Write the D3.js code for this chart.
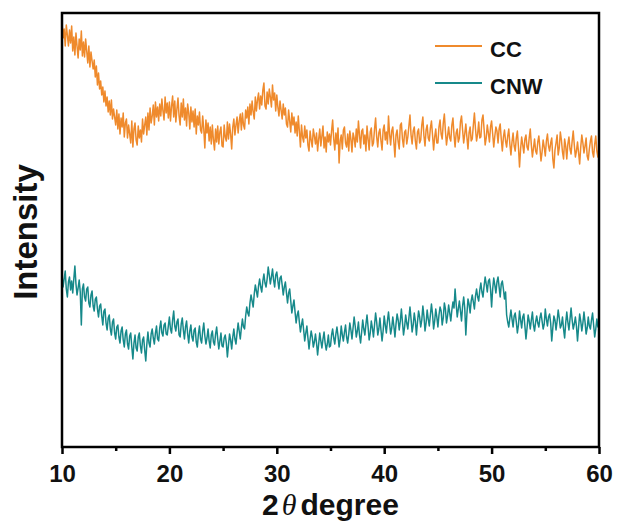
<!DOCTYPE html>
<meta charset="utf-8">
<style>
    body {
        margin: 0;
        background: #fff;
        font-family: "Liberation Sans", Arial, Helvetica, sans-serif;
    }

    svg {
        display: block;
    }

    .frame {
        fill: none;
        stroke: #000;
        stroke-width: 2.5px;
    }

    .trace {
        fill: none;
        stroke-width: 1.5px;
        stroke-linejoin: round;
    }

    .axis path {
        display: none;
    }

    .axis line {
        stroke: #000;
        stroke-width: 2.5px;
    }

    .axis text {
        font-family: "Liberation Sans", Arial, sans-serif;
        font-size: 24px;
        font-weight: bold;
        fill: #111;
    }

    .label {
        font-weight: bold;
        fill: #111;
    }
</style>

<body>
    <script src="https://cdn.jsdelivr.net/npm/d3@7"></script>
    <script>

        var seriesNames = ["CC", "CNW"];
        var seriesColors = ["#EF8A2C", "#16898A"];

        // intensity (a.u.), sampled every 0.1 degree from 10 to 60, one row per degree
        var ccIntensity = [
            425, 409, 418, 401, 422, 412, 401, 417, 404, 421,
            396, 410, 392, 414, 401, 389, 408, 397, 416, 391,
            405, 390, 408, 396, 384, 401, 380, 395, 386, 378,
            387, 370, 381, 362, 374, 358, 366, 352, 360, 345,
            356, 341, 350, 335, 346, 332, 347, 328, 338, 330,
            322, 337, 318, 333, 313, 329, 320, 334, 310, 324,
            328, 309, 322, 313, 304, 326, 300, 318, 324, 307,
            302, 321, 309, 317, 305, 328, 313, 322, 330, 312,
            334, 317, 339, 324, 331, 342, 322, 345, 330, 340,
            326, 343, 331, 348, 336, 327, 350, 334, 344, 329,
            345, 326, 341, 351, 330, 346, 325, 338, 349, 331,
            322, 344, 330, 348, 327, 339, 321, 343, 334, 318,
            340, 325, 336, 320, 338, 313, 331, 322, 335, 317,
            314, 331, 318, 299, 327, 314, 324, 306, 320, 303,
            322, 307, 297, 318, 305, 321, 303, 315, 320, 301,
            300, 322, 310, 306, 325, 308, 323, 313, 298, 320,
            328, 312, 322, 330, 314, 326, 333, 317, 334, 322,
            318, 337, 329, 340, 323, 343, 332, 346, 335, 328,
            350, 336, 347, 354, 338, 351, 342, 357, 364, 341,
            338, 355, 343, 358, 350, 340, 362, 347, 354, 336,
            352, 340, 331, 346, 337, 328, 343, 332, 339, 323,
            320, 337, 326, 315, 334, 322, 330, 314, 325, 311,
            331, 316, 300, 322, 310, 305, 321, 309, 317, 302,
            296, 316, 307, 300, 318, 311, 303, 314, 296, 308,
            318, 301, 311, 321, 299, 310, 295, 315, 305, 313,
            302, 316, 327, 308, 297, 314, 303, 319, 284, 306,
            312, 298, 317, 320, 304, 300, 313, 296, 316, 308,
            295, 314, 309, 300, 318, 305, 326, 312, 299, 316,
            318, 303, 312, 296, 321, 308, 297, 315, 319, 301,
            304, 318, 329, 310, 300, 314, 318, 306, 297, 317,
            322, 307, 315, 303, 331, 313, 302, 316, 320, 305,
            290, 312, 317, 305, 298, 322, 324, 308, 300, 315,
            317, 303, 310, 321, 332, 312, 303, 316, 320, 306,
            298, 315, 318, 304, 307, 322, 330, 311, 301, 317,
            322, 309, 306, 319, 326, 312, 297, 310, 318, 304,
            304, 320, 327, 313, 308, 324, 333, 316, 302, 311,
            320, 309, 306, 322, 329, 312, 300, 314, 318, 305,
            309, 325, 331, 317, 304, 313, 323, 310, 298, 314,
            320, 306, 308, 322, 334, 318, 306, 313, 325, 309,
            310, 327, 332, 318, 302, 309, 322, 314, 305, 320,
            326, 313, 300, 311, 320, 316, 304, 318, 323, 308,
            296, 310, 317, 306, 300, 311, 318, 303, 292, 305,
            314, 301, 296, 309, 316, 300, 280, 298, 310, 302,
            294, 308, 312, 300, 297, 309, 318, 302, 290, 299,
            308, 296, 293, 305, 311, 299, 286, 295, 307, 300,
            291, 306, 313, 301, 296, 304, 309, 288, 279, 297,
            304, 312, 292, 299, 315, 307, 295, 288, 308, 301,
            288, 303, 310, 298, 293, 306, 316, 302, 290, 296,
            305, 294, 283, 300, 312, 304, 294, 301, 309, 291,
            287, 298, 306, 311, 295, 290, 303, 311, 296, 290,
            300
        ];

        var cnwIntensity = [
            172, 160, 168, 176, 158, 150, 165, 170, 157, 166,
            154, 168, 181, 163, 152, 159, 167, 155, 122, 158,
            163, 150, 146, 158, 160, 144, 140, 152, 156, 141,
            136, 148, 150, 138, 130, 141, 143, 131, 122, 136,
            138, 124, 117, 129, 132, 118, 112, 125, 128, 114,
            108, 120, 122, 110, 104, 116, 120, 107, 100, 113,
            117, 103, 98, 111, 114, 100, 88, 104, 112, 99,
            96, 110, 114, 101, 94, 107, 110, 97, 86, 103,
            115, 104, 100, 113, 118, 109, 103, 114, 121, 108,
            106, 119, 126, 114, 111, 122, 124, 113, 112, 121,
            130, 118, 114, 127, 136, 121, 116, 125, 128, 112,
            110, 123, 129, 117, 108, 120, 126, 113, 104, 116,
            122, 110, 106, 117, 119, 105, 100, 113, 121, 108,
            104, 116, 124, 111, 103, 109, 118, 106, 99, 112,
            116, 105, 102, 113, 120, 108, 98, 106, 114, 101,
            100, 109, 112, 104, 90, 102, 113, 107, 98, 110,
            118, 108, 103, 114, 124, 116, 108, 119, 128, 120,
            118, 131, 140, 134, 131, 144, 152, 146, 140, 153,
            162, 156, 150, 161, 168, 160, 155, 166, 173, 164,
            160, 168, 180, 172, 163, 170, 178, 167, 160, 172,
            175, 166, 158, 169, 171, 162, 152, 160, 165, 154,
            144, 154, 158, 146, 134, 141, 147, 135, 124, 132,
            136, 125, 115, 122, 128, 117, 106, 114, 121, 109,
            98, 108, 116, 110, 100, 105, 113, 104, 92, 103,
            114, 106, 99, 108, 115, 104, 97, 103, 112, 100,
            101, 112, 118, 109, 103, 113, 120, 111, 100, 108,
            121, 112, 106, 115, 122, 110, 104, 113, 124, 117,
            108, 119, 130, 121, 110, 116, 125, 112, 104, 115,
            127, 118, 112, 123, 132, 120, 107, 114, 126, 119,
            110, 122, 134, 125, 112, 118, 129, 117, 106, 116,
            131, 122, 114, 126, 135, 124, 113, 119, 130, 121,
            110, 123, 133, 127, 117, 126, 138, 125, 112, 120,
            132, 124, 118, 129, 140, 128, 115, 122, 134, 126,
            112, 125, 136, 130, 120, 127, 141, 131, 116, 124,
            137, 128, 121, 132, 143, 133, 118, 126, 138, 130,
            120, 132, 140, 136, 122, 129, 144, 138, 124, 131,
            142, 134, 126, 137, 145, 139, 158, 143, 130, 138,
            146, 136, 126, 141, 150, 139, 112, 133, 148, 143,
            134, 146, 152, 145, 138, 151, 158, 150, 146, 157,
            164, 155, 150, 161, 170, 163, 155, 166, 168, 158,
            140, 158, 169, 162, 154, 165, 170, 160, 150, 163,
            166, 158, 148, 155, 132, 125, 120, 129, 137, 128,
            120, 131, 134, 125, 114, 122, 136, 127, 119, 130,
            133, 121, 108, 119, 132, 126, 118, 127, 135, 122,
            116, 125, 131, 124, 120, 129, 134, 126, 118, 123,
            138, 128, 121, 130, 133, 124, 106, 119, 131, 127,
            117, 126, 137, 129, 119, 122, 130, 118, 109, 124,
            135, 125, 117, 128, 139, 127, 118, 123, 130, 121,
            106, 120, 133, 126, 116, 124, 135, 125, 113, 119,
            130, 121, 118, 127, 134, 122, 110, 118, 128, 120,
            122
        ];

        var xTicks = [10, 20, 30, 40, 50, 60];
        var xMinorTicks = [15, 25, 35, 45, 55];

        // scan step of the diffractometer
        var startAngle = 10,
            stepAngle = 0.1;

        var width = 619,
            height = 530,
            margin = { top: 13, right: 20, bottom: 83, left: 62 };

        var svg = d3.select("body")
            .append("svg")
            .attr("width", width)
            .attr("height", height);

        var x = d3.scaleLinear()
            .domain([10, 60])
            .range([margin.left, width - margin.right]);

        var y = d3.scaleLinear()
            .domain([0, 434])
            .range([height - margin.bottom, margin.top]);

        var series = [ccIntensity, cnwIntensity].map(function (vals, i) {
            return {
                name: seriesNames[i],
                color: seriesColors[i],
                values: vals.map(function (v, j) { return { x: startAngle + j * stepAngle, y: v }; })
            };
        });

        /* ------- TRACES -------*/

        var line = d3.line()
            .x(function (d) { return x(d.x); })
            .y(function (d) { return y(d.y); });

        svg.append("g")
            .selectAll("path")
            .data(series)
            .enter()
            .append("path")
            .attr("class", "trace")
            .attr("stroke", function (d) { return d.color; })
            .attr("d", function (d) { return line(d.values); });

        /* ------- AXES -------*/

        svg.append("g")
            .attr("class", "axis")
            .attr("transform", "translate(0," + (height - margin.bottom) + ")")
            .call(d3.axisBottom(x).tickValues(xTicks).tickSize(7).tickPadding(11));

        svg.append("g")
            .attr("class", "axis")
            .attr("transform", "translate(0," + (height - margin.bottom) + ")")
            .call(d3.axisBottom(x).tickValues(xMinorTicks).tickSize(4).tickFormat(""));

        svg.append("rect")
            .attr("class", "frame")
            .attr("x", margin.left)
            .attr("y", margin.top)
            .attr("width", width - margin.left - margin.right)
            .attr("height", height - margin.top - margin.bottom);

        var xLabel = svg.append("text")
            .attr("class", "label")
            .attr("x", (margin.left + width - margin.right) / 2)
            .attr("y", 515)
            .attr("text-anchor", "middle")
            .style("font-size", "30px");
        xLabel.append("tspan").text("2");
        xLabel.append("tspan")
            .attr("dx", 3)
            .style("font-family", "'Liberation Serif', serif")
            .style("font-style", "italic")
            .style("font-weight", "normal")
            .text("\u03b8");
        xLabel.append("tspan").attr("dx", 4).text("degree");

        svg.append("text")
            .attr("class", "label")
            .attr("transform", "translate(37," + ((margin.top + height - margin.bottom) / 2 + 2) + ") rotate(-90)")
            .attr("text-anchor", "middle")
            .style("font-size", "33px")
            .text("Intensity");

        /* ------- LEGEND -------*/

        var legend = svg.append("g")
            .selectAll("g")
            .data(series)
            .enter()
            .append("g")
            .attr("transform", function (d, i) { return "translate(435," + (46 + i * 37) + ")"; });

        legend.append("line")
            .attr("x1", 0)
            .attr("x2", 47)
            .attr("stroke", function (d) { return d.color; })
            .attr("stroke-width", 2);

        legend.append("text")
            .attr("class", "label")
            .attr("x", 55)
            .attr("y", 11)
            .style("font-size", "22px")
            .text(function (d) { return d.name; });

    </script>
</body>
